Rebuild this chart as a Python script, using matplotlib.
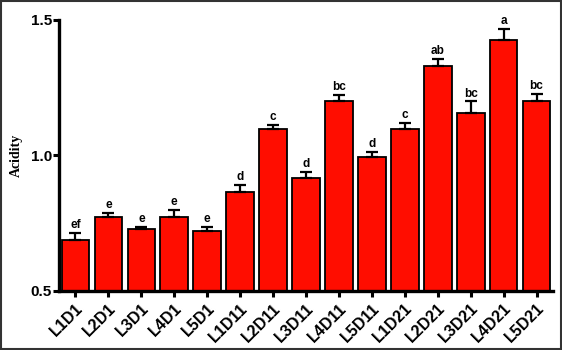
import matplotlib.pyplot as plt
import numpy as np

groups = ["L1D1", "L2D1", "L3D1", "L4D1", "L5D1",
          "L1D11", "L2D11", "L3D11", "L4D11", "L5D11",
          "L1D21", "L2D21", "L3D21", "L4D21", "L5D21"]
acidity = [0.688, 0.773, 0.727, 0.773, 0.721,
           0.865, 1.098, 0.917, 1.201, 0.994,
           1.099, 1.331, 1.157, 1.427, 1.201]
sem = [0.026, 0.015, 0.009, 0.027, 0.015,
       0.026, 0.015, 0.022, 0.022, 0.019,
       0.022, 0.025, 0.042, 0.041, 0.027]
letters = ["ef", "e", "e", "e", "e",
           "d", "c", "d", "bc", "d",
           "c", "ab", "bc", "a", "bc"]

fig = plt.figure(figsize=(5.62, 3.5), dpi=100)
ax = fig.add_axes([0.105, 0.169, 0.879, 0.774])

x = np.arange(len(groups))
ax.bar(x, acidity, width=0.84, bottom=0, color="#ff0d00",
       edgecolor="black", linewidth=1.3, zorder=2)
ax.errorbar(x, acidity, yerr=[np.zeros(len(sem)), sem], fmt="none",
            ecolor="black", elinewidth=1.6, capsize=4.3, capthick=1.6, zorder=3)

for xi, y, e, lab in zip(x, acidity, sem, letters):
    ax.text(xi, y + e + 0.006, lab, ha="center", va="bottom",
            fontsize=8.5, fontweight="bold", family="Liberation Sans")

ax.set_xlim(-0.5, 14.5)
ax.set_ylim(0.5, 1.5)
ax.set_yticks([0.5, 1.0, 1.5])
ax.set_yticklabels(["0.5", "1.0", "1.5"])
ax.set_xticks(x)
ax.set_xticklabels(groups, rotation=45, ha="right", rotation_mode="anchor")

for lab in ax.get_yticklabels():
    lab.set_family("Liberation Sans")
    lab.set_fontweight("bold")
    lab.set_fontsize(11)
for lab in ax.get_xticklabels():
    lab.set_family("Liberation Sans")
    lab.set_fontweight("bold")
    lab.set_fontsize(11.5)

ax.spines["top"].set_visible(False)
ax.spines["right"].set_visible(False)
ax.spines["left"].set_linewidth(2.4)
ax.spines["bottom"].set_linewidth(2.4)
ax.tick_params(axis="y", length=4, width=2.2, pad=1)
ax.tick_params(axis="x", length=4, width=2.2, pad=3)

ax.set_ylabel("Acidity", family="Liberation Serif", fontweight="bold",
              fontsize=10, labelpad=6)

fig.patches.append(plt.Rectangle((0.002, 0.003), 0.996, 0.994,
                                 transform=fig.transFigure, fill=False,
                                 edgecolor="#333333", linewidth=1.5))

fig.savefig("out.png", dpi=100)
